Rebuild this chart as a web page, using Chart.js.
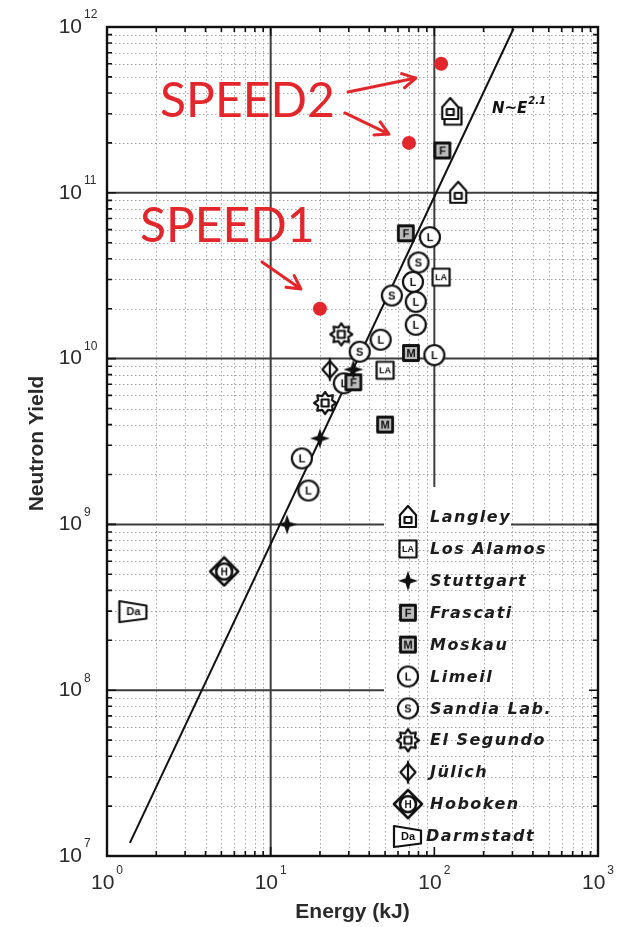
<!DOCTYPE html>
<html lang="en">
  <head>
    <meta charset="UTF-8" />
    <title>Neutron Yield vs Energy</title>
    <script src="https://cdn.jsdelivr.net/npm/chart.js@4.4.1/dist/chart.umd.min.js"></script>
    <style>
      body { margin: 0; background: #fff; }
      canvas { display: block; }
    </style>
  </head>
  <body>
    <canvas id="yield-chart" width="624" height="927"></canvas>
    <script>
      // measured yields per laboratory, energy in kJ
      const langleyE = [140, 125];
      const langleyN = [1.0e11, 3.2e11];
      const losAlamosE = [130, 110, 50];
      const losAlamosN = [2.9e11, 3.1e10, 8.5e9];
      const stuttgartE = [32, 20, 12.6];
      const stuttgartN = [8.6e9, 3.3e9, 1.0e9];
      const frascatiE = [112, 67, 32];
      const frascatiN = [1.8e11, 5.7e10, 7.2e9];
      const moskauE = [72, 50];
      const moskauN = [1.08e10, 4.0e9];
      const limeilE = [94, 74, 77, 77, 47, 100, 28, 15.5, 17];
      const limeilN = [5.4e10, 2.9e10, 2.2e10, 1.6e10, 1.3e10, 1.05e10, 7.1e9, 2.5e9, 1.6e9];
      const sandiaE = [80, 55, 35];
      const sandiaN = [3.8e10, 2.4e10, 1.1e10];
      const elSegundoE = [27, 21.5];
      const elSegundoN = [1.4e10, 5.4e9];
      const julichE = [23];
      const julichN = [8.6e9];
      const hobokenE = [5.2];
      const hobokenN = [5.2e8];
      const darmstadtE = [1.45];
      const darmstadtN = [3.0e8];

      // SPEED1 / SPEED2 shots
      const speedE = [110, 70, 20];
      const speedN = [6e11, 2e11, 2e10];

      // N ~ E^2.1 scaling line, end points
      const fitE = [1.38, 305];
      const fitN = [1.2e7, 9.8e11];

      const xExponents = [0, 1, 2, 3];
      const yExponents = [7, 8, 9, 10, 11, 12];

      const legendLabels = ["Langley", "Los Alamos", "Stuttgart", "Frascati", "Moskau", "Limeil",
        "Sandia Lab.", "El Segundo", "Jülich", "Hoboken", "Darmstadt"];

      const INK = "#111";
      const RED = "#e3262b";

      function symbol(w, h, draw) {
        const c = document.createElement("canvas");
        c.width = w;
        c.height = h;
        const g = c.getContext("2d");
        g.translate(w / 2, h / 2);
        g.lineWidth = 2.2;
        g.strokeStyle = INK;
        g.fillStyle = "#fff";
        g.lineJoin = "round";
        draw(g);
        return c;
      }

      function letter(g, t, size, y) {
        g.fillStyle = INK;
        g.font = "bold " + size + "px 'Liberation Sans'";
        g.textAlign = "center";
        g.textBaseline = "middle";
        g.fillText(t, 0, y || 1);
      }

      function poly(g, pts) {
        g.beginPath();
        pts.forEach(([x, y], i) => (i ? g.lineTo(x, y) : g.moveTo(x, y)));
        g.closePath();
        g.fill();
        g.stroke();
      }

      const symbols = {
        langley: symbol(24, 26, (g) => {
          poly(g, [[-8, 10], [-8, -2], [0, -11], [8, -2], [8, 10]]);
          g.strokeRect(-3.5, 0, 7, 6);
        }),
        losAlamos: symbol(24, 24, (g) => {
          g.fillRect(-8.5, -8.5, 17, 17);
          g.strokeRect(-8.5, -8.5, 17, 17);
          letter(g, "LA", 9);
        }),
        stuttgart: symbol(24, 24, (g) => {
          g.fillStyle = INK;
          g.beginPath();
          [[0, -10], [2.5, -2.5], [10, 0], [2.5, 2.5], [0, 10], [-2.5, 2.5], [-10, 0], [-2.5, -2.5]].forEach(([x, y], i) =>
            i ? g.lineTo(x, y) : g.moveTo(x, y));
          g.closePath();
          g.fill();
        }),
        frascati: symbol(24, 24, (g) => {
          g.lineWidth = 2.8;
          g.fillStyle = "#bbb";
          g.fillRect(-7.5, -7.5, 15, 15);
          g.strokeRect(-7.5, -7.5, 15, 15);
          letter(g, "F", 11);
        }),
        moskau: symbol(24, 24, (g) => {
          g.lineWidth = 2.8;
          g.fillStyle = "#bbb";
          g.fillRect(-7.5, -7.5, 15, 15);
          g.strokeRect(-7.5, -7.5, 15, 15);
          letter(g, "M", 11);
        }),
        limeil: symbol(26, 26, (g) => {
          g.beginPath();
          g.arc(0, 0, 10, 0, Math.PI * 2);
          g.fill();
          g.stroke();
          letter(g, "L", 11);
        }),
        sandia: symbol(26, 26, (g) => {
          g.beginPath();
          g.arc(0, 0, 10, 0, Math.PI * 2);
          g.fill();
          g.stroke();
          letter(g, "S", 11);
        }),
        elSegundo: symbol(28, 28, (g) => {
          const pts = [];
          for (let i = 0; i < 16; i++) {
            const r = i % 2 ? 7.5 : 11;
            const a = (i * Math.PI) / 8;
            pts.push([r * Math.sin(a), -r * Math.cos(a)]);
          }
          poly(g, pts);
          g.strokeRect(-3.5, -3.5, 7, 7);
        }),
        julich: symbol(24, 26, (g) => {
          poly(g, [[0, -8.5], [7.5, 0], [0, 8.5], [-7.5, 0]]);
          g.beginPath();
          g.moveTo(0, -11.5);
          g.lineTo(0, 11.5);
          g.stroke();
        }),
        hoboken: symbol(32, 32, (g) => {
          g.lineWidth = 2.6;
          poly(g, [[0, -14], [14, 0], [0, 14], [-14, 0]]);
          g.beginPath();
          g.arc(0, 0, 8, 0, Math.PI * 2);
          g.stroke();
          letter(g, "H", 10);
        }),
        darmstadt: symbol(32, 26, (g) => {
          poly(g, [[-14, -10], [13, -5.5], [13, 7.5], [-14, 11]]);
          letter(g, "Da", 11);
        }),
      };
      const legendSymbols = ["langley", "losAlamos", "stuttgart", "frascati", "moskau", "limeil",
        "sandia", "elSegundo", "julich", "hoboken", "darmstadt"];

      function points(xs, ys) {
        return xs.map((x, i) => ({ x: x, y: ys[i] }));
      }

      function labSet(label, xs, ys, key) {
        return {
          label: label,
          data: points(xs, ys),
          pointStyle: symbols[key],
          pointRadius: 10,
          showLine: false,
        };
      }

      // grid: dotted minor lines, solid decade lines (broken behind the legend)
      const gridPlugin = {
        id: "logGrid",
        beforeDatasetsDraw(chart) {
          const { ctx, chartArea: a, scales } = chart;
          const legendLeft = a.left + 277;
          const legendTop = a.top + 460;
          ctx.save();
          ctx.beginPath();
          ctx.rect(a.left, a.top, a.right - a.left, a.bottom - a.top);
          ctx.clip();
          ctx.strokeStyle = "#a3a3a3";
          ctx.lineWidth = 1;
          ctx.setLineDash([1.5, 2.5]);
          for (let d = 0; d < 3; d++) {
            for (let m = 2; m <= 9; m++) {
              const px = Math.round(scales.x.getPixelForValue(m * Math.pow(10, d))) + 0.5;
              ctx.beginPath();
              ctx.moveTo(px, a.top);
              ctx.lineTo(px, a.bottom);
              ctx.stroke();
            }
          }
          for (let d = 7; d < 12; d++) {
            for (let m = 2; m <= 9; m++) {
              const py = Math.round(scales.y.getPixelForValue(m * Math.pow(10, d))) + 0.5;
              ctx.beginPath();
              ctx.moveTo(a.left, py);
              ctx.lineTo(a.right, py);
              ctx.stroke();
            }
          }
          ctx.setLineDash([]);
          ctx.strokeStyle = "#3c3c3c";
          ctx.lineWidth = 2;
          [10, 100].forEach((v) => {
            const px = scales.x.getPixelForValue(v);
            ctx.beginPath();
            ctx.moveTo(px, a.top);
            ctx.lineTo(px, v === 100 ? legendTop : a.bottom);
            ctx.stroke();
          });
          [1e8, 1e9, 1e10, 1e11].forEach((v) => {
            const py = scales.y.getPixelForValue(v);
            ctx.beginPath();
            ctx.moveTo(a.left, py);
            if (v === 1e9) {
              ctx.lineTo(legendLeft, py);
              ctx.moveTo(a.left + 404, py);
              ctx.lineTo(a.right, py);
            } else if (v === 1e8) {
              ctx.lineTo(legendLeft, py);
            } else {
              ctx.lineTo(a.right, py);
            }
            ctx.stroke();
          });
          ctx.restore();
        },
      };

      function powerLabel(ctx, x, y, exp, align) {
        ctx.font = "21px 'Liberation Sans'";
        const base = ctx.measureText("10").width;
        ctx.font = "12px 'Liberation Sans'";
        const sup = ctx.measureText(String(exp)).width;
        let left = align === "right" ? x - base : x - (base + 2 + sup) / 2;
        ctx.fillStyle = "#2b2b2b";
        ctx.textAlign = "left";
        ctx.textBaseline = "middle";
        ctx.font = "21px 'Liberation Sans'";
        ctx.fillText("10", left, y);
        ctx.font = "12px 'Liberation Sans'";
        ctx.fillText(String(exp), left + base + 2, y - 12);
      }

      function arrow(ctx, x1, y1, x2, y2) {
        const ang = Math.atan2(y2 - y1, x2 - x1);
        const head = 15;
        ctx.beginPath();
        ctx.moveTo(x1, y1);
        ctx.lineTo(x2, y2);
        ctx.moveTo(x2 - head * Math.cos(ang - 0.5), y2 - head * Math.sin(ang - 0.5));
        ctx.lineTo(x2, y2);
        ctx.lineTo(x2 - head * Math.cos(ang + 0.5), y2 - head * Math.sin(ang + 0.5));
        ctx.stroke();
      }

      // frame, ticks, labels, legend and the SPEED notes
      const decorPlugin = {
        id: "decor",
        afterDraw(chart) {
          const { ctx, chartArea: a, scales } = chart;
          const X = (v) => scales.x.getPixelForValue(v);
          const Y = (v) => scales.y.getPixelForValue(v);
          ctx.save();

          ctx.strokeStyle = INK;
          ctx.lineWidth = 1.6;
          for (let d = 0; d < 3; d++) {
            for (let m = 1; m <= 9; m++) {
              const px = X(m * Math.pow(10, d));
              const len = m === 1 ? 9 : 5;
              ctx.beginPath();
              ctx.moveTo(px, a.bottom);
              ctx.lineTo(px, a.bottom - len);
              ctx.moveTo(px, a.top);
              ctx.lineTo(px, a.top + len);
              ctx.stroke();
            }
          }
          for (let d = 7; d < 12; d++) {
            for (let m = 1; m <= 9; m++) {
              const py = Y(m * Math.pow(10, d));
              const len = m === 1 ? 9 : 5;
              ctx.beginPath();
              ctx.moveTo(a.left, py);
              ctx.lineTo(a.left + len, py);
              ctx.moveTo(a.right, py);
              ctx.lineTo(a.right - len, py);
              ctx.stroke();
            }
          }
          ctx.lineWidth = 2.4;
          ctx.strokeRect(a.left, a.top, a.right - a.left, a.bottom - a.top);

          xExponents.forEach((e) => powerLabel(ctx, X(Math.pow(10, e)), a.bottom + 27, e, "center"));
          yExponents.forEach((e) => powerLabel(ctx, a.left - 25, Y(Math.pow(10, e)), e, "right"));

          ctx.fillStyle = "#2a2a2a";
          ctx.font = "bold 21px 'Liberation Sans'";
          ctx.textAlign = "center";
          ctx.textBaseline = "alphabetic";
          ctx.fillText("Energy (kJ)", (a.left + a.right) / 2, a.bottom + 62);
          ctx.save();
          ctx.translate(a.left - 64, (a.top + a.bottom) / 2 + 2);
          ctx.rotate(-Math.PI / 2);
          ctx.fillText("Neutron Yield", 0, 0);
          ctx.restore();

          // scaling-law label
          ctx.fillStyle = INK;
          ctx.textAlign = "left";
          ctx.font = "italic bold 15px 'DejaVu Sans'";
          const lx = X(225), ly = Y(3.03e11);
          ctx.fillText("N~E", lx, ly);
          const nw = ctx.measureText("N~E").width;
          ctx.font = "italic bold 10px 'DejaVu Sans'";
          ctx.fillText("2.1", lx + nw + 1, ly - 9);

          // legend
          const iconX = a.left + 301;
          legendLabels.forEach((lab, i) => {
            const y = a.top + 490 + i * 31.9;
            const s = symbols[legendSymbols[i]];
            ctx.drawImage(s, iconX - s.width / 2, y - s.height / 2);
            ctx.fillStyle = "#1c1c1c";
            ctx.font = "italic bold 16px 'DejaVu Sans'";
            ctx.letterSpacing = "1.5px";
            ctx.textBaseline = "middle";
            ctx.fillText(lab, iconX + (i === 10 ? 18 : 22), y + 1);
          });
          ctx.letterSpacing = "0px";

          // SPEED notes
          ctx.fillStyle = RED;
          ctx.strokeStyle = RED;
          ctx.font = "48px Lato";
          ctx.textBaseline = "alphabetic";
          ctx.fillText("SPEED2", X(2.11), Y(2.87e11));
          ctx.fillText("SPEED1", X(1.59), Y(5.05e10));
          ctx.lineWidth = 3;
          ctx.lineCap = "round";
          ctx.lineJoin = "round";
          arrow(ctx, X(29.7), Y(4.06e11), X(77.2), Y(4.92e11));
          arrow(ctx, X(28.4), Y(3.03e11), X(52.8), Y(2.26e11));
          arrow(ctx, X(8.85), Y(3.83e10), X(15.3), Y(2.63e10));
          ctx.restore();
        },
      };

      new Chart(document.getElementById("yield-chart"), {
        type: "scatter",
        data: {
          datasets: [
            {
              label: "SPEED",
              data: points(speedE, speedN),
              pointStyle: "circle",
              pointRadius: 7,
              backgroundColor: RED,
              borderColor: RED,
              borderWidth: 0,
            },
            labSet("Langley", langleyE, langleyN, "langley"),
            labSet("Los Alamos", losAlamosE, losAlamosN, "losAlamos"),
            labSet("Stuttgart", stuttgartE, stuttgartN, "stuttgart"),
            labSet("Frascati", frascatiE, frascatiN, "frascati"),
            labSet("Moskau", moskauE, moskauN, "moskau"),
            labSet("Limeil", limeilE, limeilN, "limeil"),
            labSet("Sandia Lab.", sandiaE, sandiaN, "sandia"),
            labSet("El Segundo", elSegundoE, elSegundoN, "elSegundo"),
            labSet("Jülich", julichE, julichN, "julich"),
            labSet("Hoboken", hobokenE, hobokenN, "hoboken"),
            labSet("Darmstadt", darmstadtE, darmstadtN, "darmstadt"),
            {
              label: "N~E^2.1",
              data: points(fitE, fitN),
              showLine: true,
              borderColor: INK,
              borderWidth: 2,
              pointRadius: 0,
            },
          ],
        },
        options: {
          responsive: false,
          devicePixelRatio: 1,
          animation: false,
          events: [],
          layout: { padding: { top: 27, right: 26, left: 0, bottom: 0 } },
          plugins: { legend: { display: false }, tooltip: { enabled: false } },
          scales: {
            x: {
              type: "logarithmic",
              min: 1,
              max: 1000,
              ticks: { display: false },
              grid: { display: false },
              border: { display: false },
              afterFit: (s) => { s.height = 71; },
            },
            y: {
              type: "logarithmic",
              min: 1e7,
              max: 1e12,
              ticks: { display: false },
              grid: { display: false },
              border: { display: false },
              afterFit: (s) => { s.width = 107; },
            },
          },
        },
        plugins: [gridPlugin, decorPlugin],
      });
    </script>
  </body>
</html>
